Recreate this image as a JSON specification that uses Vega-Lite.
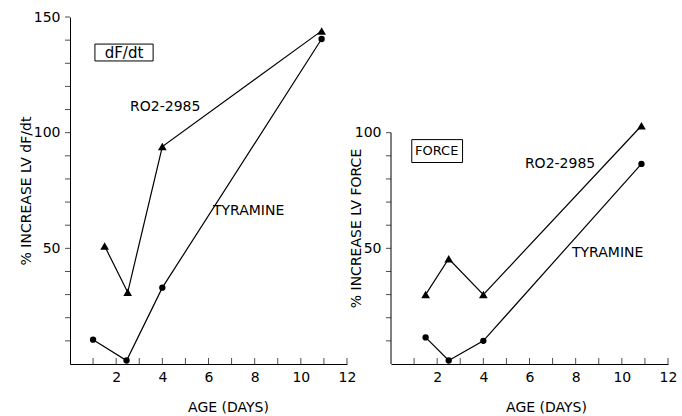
{
  "$schema": "https://vega.github.io/schema/vega-lite/v6.json",
  "padding": {"left": 19, "top": 10, "right": 5, "bottom": 0},
  "bounds": "flush",
  "spacing": 44,
  "config": {
    "view": {"stroke": null},
    "font": "DejaVu Sans",
    "axis": {
      "domainColor": "black",
      "tickColor": "black",
      "labelColor": "black",
      "titleColor": "black",
      "grid": false,
      "ticks": false,
      "labelFont": "DejaVu Sans",
      "titleFont": "DejaVu Sans",
      "labelFontSize": 14,
      "titleFontSize": 14,
      "titleFontWeight": "normal",
      "domainWidth": 1,
      "labelBound": false,
      "labelOverlap": false,
      "labelFlush": false
    },
    "axisX": {"labelPadding": 6, "titlePadding": 16},
    "axisY": {"labelPadding": 10, "titleBaseline": "middle"}
  },
  "datasets": {
    "dfdt": [
      {"age": 1.5, "pct": 51, "drug": "RO2-2985"},
      {"age": 2.5, "pct": 31, "drug": "RO2-2985"},
      {"age": 4.0, "pct": 94, "drug": "RO2-2985"},
      {"age": 10.9, "pct": 144, "drug": "RO2-2985"},
      {"age": 1.0, "pct": 10.5, "drug": "Tyramine"},
      {"age": 2.45, "pct": 1.5, "drug": "Tyramine"},
      {"age": 4.0, "pct": 33, "drug": "Tyramine"},
      {"age": 10.9, "pct": 140.5, "drug": "Tyramine"}
    ],
    "force": [
      {"age": 1.5, "pct": 30, "drug": "RO2-2985"},
      {"age": 2.5, "pct": 45.5, "drug": "RO2-2985"},
      {"age": 4.0, "pct": 30, "drug": "RO2-2985"},
      {"age": 10.85, "pct": 103, "drug": "RO2-2985"},
      {"age": 1.5, "pct": 11.5, "drug": "Tyramine"},
      {"age": 2.5, "pct": 1.5, "drug": "Tyramine"},
      {"age": 4.0, "pct": 10, "drug": "Tyramine"},
      {"age": 10.85, "pct": 86.5, "drug": "Tyramine"}
    ],
    "xTicks": [
      {"age": 1}, {"age": 2}, {"age": 3}, {"age": 4}, {"age": 5}, {"age": 6},
      {"age": 7}, {"age": 8}, {"age": 9}, {"age": 10}, {"age": 11}, {"age": 12}
    ],
    "yTicksDfdt": [
      {"pct": 10}, {"pct": 20}, {"pct": 30}, {"pct": 40}, {"pct": 50}, {"pct": 60}, {"pct": 70}, {"pct": 80},
      {"pct": 90}, {"pct": 100}, {"pct": 110}, {"pct": 120}, {"pct": 130}, {"pct": 140}, {"pct": 150}
    ],
    "yTicksForce": [
      {"pct": 10}, {"pct": 20}, {"pct": 30}, {"pct": 40}, {"pct": 50},
      {"pct": 60}, {"pct": 70}, {"pct": 80}, {"pct": 90}, {"pct": 100}
    ],
    "dfdtLabels": [
      {"text": "RO2-2985", "age": 2.6, "pct": 111},
      {"text": "TYRAMINE", "age": 6.19, "pct": 66}
    ],
    "forceLabels": [
      {"text": "RO2-2985", "age": 5.8, "pct": 86.3},
      {"text": "TYRAMINE", "age": 7.84, "pct": 48}
    ],
    "dfdtBox": [{"text": "dF/dt", "x1": 1.08, "x2": 3.6, "y1": 131, "y2": 138.3, "xc": 2.34, "yc": 134.5}],
    "forceBox": [{"text": "FORCE", "x1": 0.9, "x2": 3.1, "y1": 87.1, "y2": 97, "xc": 1.98, "yc": 92}],
    "axisLine": [{"age": 0, "lo": 0, "hi": 100}]
  },
  "hconcat": [
    {
      "width": 277,
      "height": 347,
      "layer": [
        {
          "data": {"name": "dfdt"},
          "mark": {"type": "line", "color": "black", "strokeWidth": 1.2},
          "encoding": {
            "x": {"field": "age", "type": "quantitative", "scale": {"domain": [0, 12], "nice": false},
              "axis": {"title": "AGE (DAYS)", "values": [2, 4, 6, 8, 10, 12], "titleX": 158}},
            "y": {"field": "pct", "type": "quantitative", "scale": {"domain": [0, 150], "nice": false},
              "axis": {"title": "% INCREASE LV dF/dt", "values": [50, 100, 150], "titleX": -44}},
            "detail": {"field": "drug"}
          }
        },
        {
          "data": {"name": "xTicks"},
          "mark": {"type": "tick", "orient": "vertical", "color": "black", "size": 6, "thickness": 1, "yOffset": -3},
          "encoding": {
            "x": {"field": "age", "type": "quantitative"},
            "y": {"datum": 0, "type": "quantitative"}
          }
        },
        {
          "data": {"name": "yTicksDfdt"},
          "mark": {"type": "tick", "orient": "horizontal", "color": "black", "size": 5, "thickness": 1, "xOffset": -2.5},
          "encoding": {
            "x": {"datum": 0, "type": "quantitative"},
            "y": {"field": "pct", "type": "quantitative"}
          }
        },
        {
          "data": {"name": "dfdt"},
          "mark": {"type": "point", "filled": true, "color": "black", "opacity": 1},
          "encoding": {
            "x": {"field": "age", "type": "quantitative"},
            "y": {"field": "pct", "type": "quantitative"},
            "shape": {"field": "drug", "scale": {"domain": ["RO2-2985", "Tyramine"], "range": ["triangle-up", "circle"]}, "legend": null},
            "size": {"field": "drug", "scale": {"domain": ["RO2-2985", "Tyramine"], "range": [75, 40]}, "legend": null}
          }
        },
        {
          "data": {"name": "dfdtLabels"},
          "mark": {"type": "text", "align": "left", "baseline": "middle", "fontSize": 14, "color": "black"},
          "encoding": {
            "x": {"field": "age", "type": "quantitative"},
            "y": {"field": "pct", "type": "quantitative"},
            "text": {"field": "text"}
          }
        },
        {
          "data": {"name": "dfdtBox"},
          "mark": {"type": "rect", "filled": false, "stroke": "black", "strokeWidth": 1},
          "encoding": {
            "x": {"field": "x1", "type": "quantitative"},
            "x2": {"field": "x2"},
            "y": {"field": "y1", "type": "quantitative"},
            "y2": {"field": "y2"}
          }
        },
        {
          "data": {"name": "dfdtBox"},
          "mark": {"type": "text", "align": "center", "baseline": "middle", "fontSize": 15, "color": "black"},
          "encoding": {
            "x": {"field": "xc", "type": "quantitative"},
            "y": {"field": "yc", "type": "quantitative"},
            "text": {"field": "text"}
          }
        }
      ]
    },
    {
      "width": 277,
      "height": 347,
      "layer": [
        {
          "data": {"name": "axisLine"},
          "mark": {"type": "rule", "color": "black", "strokeWidth": 1},
          "encoding": {
            "x": {"field": "age", "type": "quantitative", "scale": {"domain": [0, 12], "nice": false},
              "axis": {"title": "AGE (DAYS)", "values": [2, 4, 6, 8, 10, 12], "titleX": 155}},
            "y": {"field": "lo", "type": "quantitative", "scale": {"domain": [0, 150], "nice": false},
              "axis": {"title": "% INCREASE LV FORCE", "domain": false, "values": [50, 100], "titleY": 211, "titleX": -35}},
            "y2": {"field": "hi"}
          }
        },
        {
          "data": {"name": "xTicks"},
          "mark": {"type": "tick", "orient": "vertical", "color": "black", "size": 6, "thickness": 1, "yOffset": -3},
          "encoding": {
            "x": {"field": "age", "type": "quantitative"},
            "y": {"datum": 0, "type": "quantitative"}
          }
        },
        {
          "data": {"name": "yTicksForce"},
          "mark": {"type": "tick", "orient": "horizontal", "color": "black", "size": 5, "thickness": 1, "xOffset": -2.5},
          "encoding": {
            "x": {"datum": 0, "type": "quantitative"},
            "y": {"field": "pct", "type": "quantitative"}
          }
        },
        {
          "data": {"name": "force"},
          "mark": {"type": "line", "color": "black", "strokeWidth": 1.2},
          "encoding": {
            "x": {"field": "age", "type": "quantitative"},
            "y": {"field": "pct", "type": "quantitative"},
            "detail": {"field": "drug"}
          }
        },
        {
          "data": {"name": "force"},
          "mark": {"type": "point", "filled": true, "color": "black", "opacity": 1},
          "encoding": {
            "x": {"field": "age", "type": "quantitative"},
            "y": {"field": "pct", "type": "quantitative"},
            "shape": {"field": "drug", "scale": {"domain": ["RO2-2985", "Tyramine"], "range": ["triangle-up", "circle"]}, "legend": null},
            "size": {"field": "drug", "scale": {"domain": ["RO2-2985", "Tyramine"], "range": [75, 40]}, "legend": null}
          }
        },
        {
          "data": {"name": "forceLabels"},
          "mark": {"type": "text", "align": "left", "baseline": "middle", "fontSize": 14, "color": "black"},
          "encoding": {
            "x": {"field": "age", "type": "quantitative"},
            "y": {"field": "pct", "type": "quantitative"},
            "text": {"field": "text"}
          }
        },
        {
          "data": {"name": "forceBox"},
          "mark": {"type": "rect", "filled": false, "stroke": "black", "strokeWidth": 1},
          "encoding": {
            "x": {"field": "x1", "type": "quantitative"},
            "x2": {"field": "x2"},
            "y": {"field": "y1", "type": "quantitative"},
            "y2": {"field": "y2"}
          }
        },
        {
          "data": {"name": "forceBox"},
          "mark": {"type": "text", "align": "center", "baseline": "middle", "fontSize": 13, "color": "black"},
          "encoding": {
            "x": {"field": "xc", "type": "quantitative"},
            "y": {"field": "yc", "type": "quantitative"},
            "text": {"field": "text"}
          }
        }
      ]
    }
  ]
}
